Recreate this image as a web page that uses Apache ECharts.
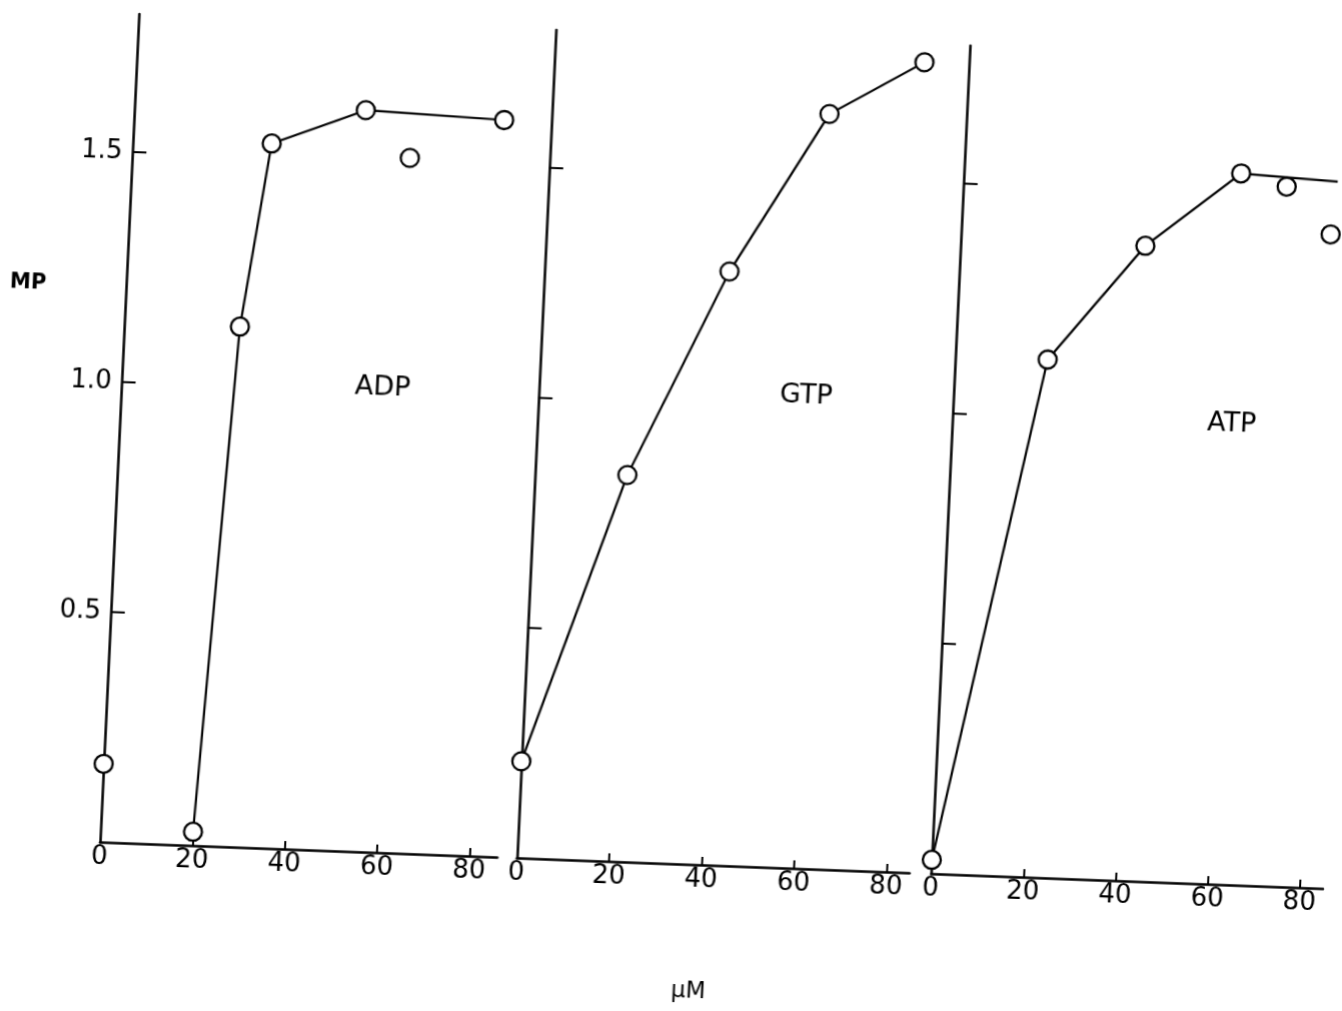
<!DOCTYPE html>
<html>
<head>
<meta charset="utf-8">
<script src="https://cdn.jsdelivr.net/npm/echarts@6.0.0/dist/echarts.min.js"></script>
<style>
  html, body { margin: 0; padding: 0; background: #fff; overflow: hidden; width: 1342px; height: 1011px; }
  #c {
    position: absolute; left: -50px; top: 0; width: 1442px; height: 1060px;
    transform-origin: 150px 842px;
    transform: matrix(1, 0.038, -0.047, 1, 0, 0);
  }
</style>
</head>
<body>
<div id="c"></div>
<script>
// ---- data ----
const panelNames = ['ADP', 'GTP', 'ATP'];
const xTickLabels = [0, 20, 40, 60, 80];
const xTickMarks = [20, 40, 60, 80];
const yTickValues = [0.5, 1.0, 1.5];
const xMax = [86, 85, 85];
const yMax = 1.8;

// ADP
const adpLine = [[20, 0.03], [25, 1.13], [30, 1.53], [50, 1.61], [80, 1.60]];
const adpPoints = [[0, 0.17], [20, 0.03], [25, 1.13], [30, 1.53], [50, 1.61], [60, 1.51], [80, 1.60]];
// GTP
const gtpLine = [[0, 0.21], [20, 0.84], [40, 1.29], [60, 1.64], [80, 1.76]];
const gtpPoints = [[0, 0.21], [20, 0.84], [40, 1.29], [60, 1.64], [80, 1.76]];
// ATP
const atpLine = [[0, 0.03], [20, 1.125], [40, 1.38], [60, 1.545], [81, 1.535]];
const atpPoints = [[0, 0.03], [20, 1.125], [40, 1.38], [60, 1.545], [70, 1.52], [80, 1.42]];

const yAxisTitle = 'MP';
const xAxisTitle = 'μM';

// ---- layout / styles ----
const FONT = '"DejaVu Sans", sans-serif';
const gridLefts = [150, 566.8, 981.1];
const pxPerX = [4.62, 4.62, 4.61];
const gridTop = 14, gridHeight = 828;

const grids = gridLefts.map((l, i) => ({
  left: l, top: gridTop, width: xMax[i] * pxPerX[i], height: gridHeight
}));

const xAxes = grids.map((g, i) => ({
  type: 'value', gridIndex: i, min: 0, max: xMax[i],
  axisLine: { show: true, onZero: false, lineStyle: { color: '#000', width: 2.5 } },
  axisTick: { show: true, inside: true, length: 8, customValues: xTickMarks,
              lineStyle: { color: '#000', width: 2 } },
  axisLabel: { show: true, customValues: xTickLabels, fontSize: 26, fontFamily: FONT,
               color: '#000', margin: 2 },
  splitLine: { show: false }
}));

const yAxes = grids.map((g, i) => ({
  type: 'value', gridIndex: i, min: 0, max: yMax,
  axisLine: { show: true, onZero: false, lineStyle: { color: '#000', width: 2.5 } },
  axisTick: { show: true, inside: true, length: 14, customValues: yTickValues,
              lineStyle: { color: '#000', width: 2 } },
  axisLabel: { show: i === 0, customValues: yTickValues, fontSize: 26, fontFamily: FONT,
               color: '#000', margin: 10, formatter: v => v.toFixed(1) },
  splitLine: { show: false }
}));

const lines = [adpLine, gtpLine, atpLine];
const pts = [adpPoints, gtpPoints, atpPoints];
const series = [];
lines.forEach((d, i) => {
  series.push({
    type: 'line', name: panelNames[i] + ' line', xAxisIndex: i, yAxisIndex: i,
    data: d, showSymbol: false, symbol: 'none', z: 2,
    lineStyle: { color: '#000', width: 2.2 }, silent: true
  });
});
pts.forEach((d, i) => {
  series.push({
    type: 'scatter', name: panelNames[i], xAxisIndex: i, yAxisIndex: i,
    data: d, symbol: 'circle', symbolSize: 18, z: 3,
    itemStyle: { color: '#fff', borderColor: '#000', borderWidth: 2.3, opacity: 1 }
  });
});

const labelPos = [[410.7, 378], [833.8, 370], [1260, 382]];
const graphics = panelNames.map((n, i) => ({
  type: 'text', x: labelPos[i][0], y: labelPos[i][1], z: 10,
  style: { text: n, font: '27px ' + FONT, fill: '#000', align: 'center', verticalAlign: 'middle' }
}));
graphics.push({
  type: 'text', x: 52, y: 287, z: 10,
  style: { text: yAxisTitle, font: 'bold 21px ' + FONT, fill: '#000', align: 'center', verticalAlign: 'middle' }
});
graphics.push({
  type: 'text', x: 744, y: 969, z: 10,
  style: { text: xAxisTitle, font: '23px ' + FONT, fill: '#000', align: 'center', verticalAlign: 'middle' }
});

const chart = echarts.init(document.getElementById('c'), null, { renderer: 'canvas' });
chart.setOption({
  backgroundColor: '#fff',
  animation: false,
  grid: grids,
  xAxis: xAxes,
  yAxis: yAxes,
  series: series,
  graphic: graphics
});
</script>
</body>
</html>
